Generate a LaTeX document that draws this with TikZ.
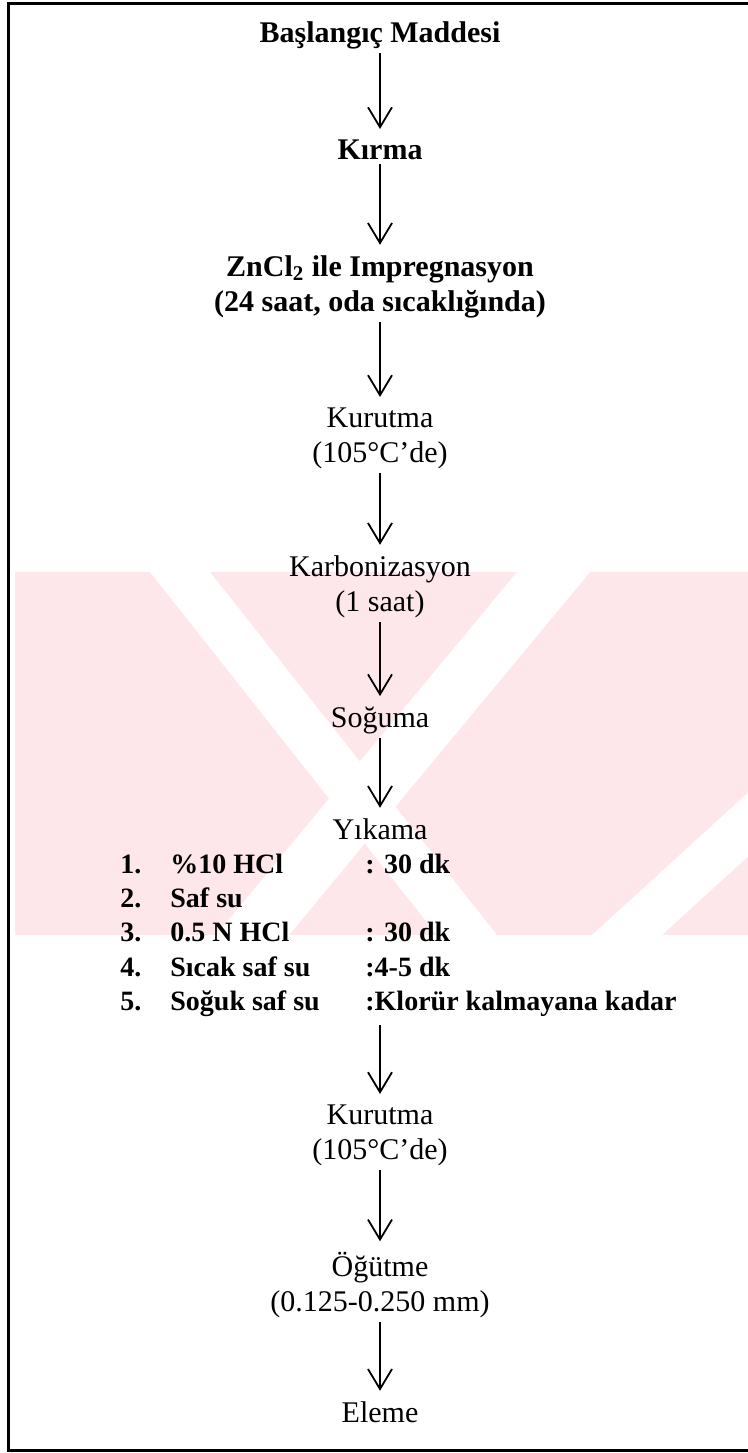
\documentclass[tikz,border=0pt]{standalone}
\usepackage{fontspec}
\setmainfont{Liberation Serif}
\usetikzlibrary{arrows.meta}

\definecolor{filigran}{RGB}{253,231,235}

\tikzset{
  adim/.style={anchor=base, inner sep=0pt, align=center, font=\fontsize{15}{17.5}\selectfont},
  kalin/.style={adim, font=\fontsize{15}{17.5}\selectfont\bfseries},
  liste/.style={anchor=base west, inner sep=0pt, font=\fontsize{14}{17.2}\selectfont\bfseries},
  ok/.style={-{Straight Barb[length=10pt,width=12pt]}, line width=0.9pt, shorten <=2pt, shorten >=5pt}
}

\begin{document}
\begin{tikzpicture}[x=0.5pt,y=-0.5pt]
\useasboundingbox (0,0) rectangle (748,1453);

% Watermark in the background
\begin{scope}
  \clip (15,572) rectangle (748,935);
  \fill[filigran] (15,572) rectangle (748,935);
  \fill[white] (150,572) -- (210,572) -- (497,935) -- (437,935) -- cycle;
  \fill[white] (517,572) -- (590,572) -- (289,935) -- (216,935) -- cycle;
  \fill[white] (990,572) -- (1060,572) -- (662,935) -- (592,935) -- cycle;
\end{scope}

% Frame (right side runs off the page)
\draw[line width=1.5pt] (760,3) -- (8,3) -- (8,1450) -- (760,1450);

% Steps (multi-line nodes sit on their last line)
\node[kalin] (baslangic) at (380,42) {Başlangıç Maddesi};
\node[kalin] (kirma) at (380,159) {Kırma};
\node[kalin] (emdirme) at (380,311) {ZnCl\textsubscript{2} ile Impregnasyon\\(24 saat, oda sıcaklığında)};
\node[adim] (kurutmaA) at (380,462) {Kurutma\\(105°C’de)};
\node[adim] (karbon) at (380,611) {Karbonizasyon\\(1 saat)};
\node[adim] (soguma) at (380,727) {Soğuma};
\node[adim] (yikama) at (380,839) {Yıkama};

% Washing list
\node[liste] (yikamaliste) at (120,873) {%
  \begin{tabular}[t]{@{}p{25pt}@{}p{97.5pt}@{}l@{}}
  1. & \%10 HCl & : 30 dk\\
  2. & Saf su & \\
  3. & 0.5 N HCl & : 30 dk\\
  4. & Sıcak saf su & :4-5 dk\\
  5. & Soğuk saf su & :Klorür kalmayana kadar
  \end{tabular}};

\node[adim] (kurutmaB) at (380,1159) {Kurutma\\(105°C’de)};
\node[adim] (ogutme) at (380,1311) {Öğütme\\(0.125-0.250 mm)};
\node[adim] (eleme) at (380,1422) {Eleme};

% Arrows
\foreach \a/\b in {baslangic/kirma, kirma/emdirme, emdirme/kurutmaA, kurutmaA/karbon,
                   karbon/soguma, soguma/yikama, kurutmaB/ogutme, ogutme/eleme}
  \draw[ok] (\a) -- (\b);
\draw[ok] (yikama |- yikamaliste.south) -- (kurutmaB);

\end{tikzpicture}
\end{document}
